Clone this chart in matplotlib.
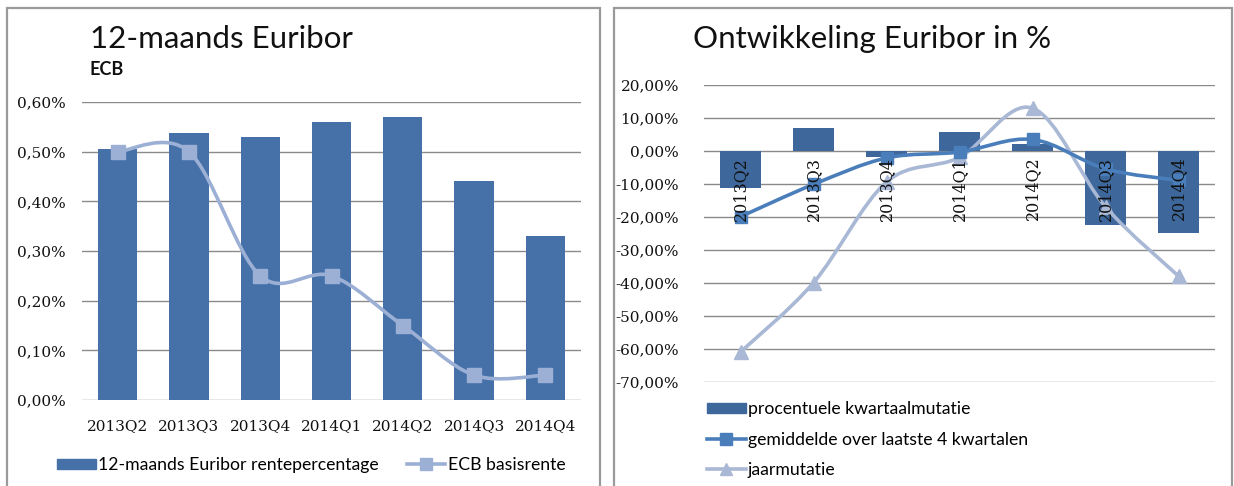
import numpy as np
import matplotlib
matplotlib.use("Agg")
import matplotlib.pyplot as plt
from matplotlib.path import Path
from matplotlib.patches import PathPatch, Rectangle
from matplotlib.lines import Line2D
from matplotlib.transforms import offset_copy

# data
kwartalen = ["2013Q2", "2013Q3", "2013Q4", "2014Q1", "2014Q2", "2014Q3", "2014Q4"]
euribor_12m = [0.505, 0.538, 0.53, 0.56, 0.57, 0.44, 0.33]
ecb_basisrente = [0.50, 0.50, 0.25, 0.25, 0.15, 0.05, 0.05]

kwartaalmutatie = [-11.4, 7.0, -1.9, 5.6, 2.0, -22.5, -24.8]
gemiddelde_4kw = [-20.0, -10.2, -2.2, -0.4, 3.4, -5.5, -9.0]
jaarmutatie = [-61.0, -40.0, -9.5, -2.0, 12.9, -17.0, -38.0]

tick_font = "DejaVu Serif"
text_font = "Lato"

c_bar_l = "#4671a8"
c_bar_r = "#3e679b"
c_ecb = "#9cb0d6"
c_gem = "#4a7ebb"
c_jaar = "#a8b8d5"
c_grid = "#8a8a8a"


def smooth_line(ax, xs, ys, color, lw, z):
    # bezier curve through every point (catmull-rom style control points)
    pts = np.column_stack([xs, ys]).astype(float)
    ext = np.vstack([pts[0], pts, pts[-1]])
    verts = [pts[0]]
    codes = [Path.MOVETO]
    for i in range(len(pts) - 1):
        p0, p1, p2, p3 = ext[i], ext[i + 1], ext[i + 2], ext[i + 3]
        verts += [p1 + (p2 - p0) / 6.0, p2 - (p3 - p1) / 6.0, p2]
        codes += [Path.CURVE4] * 3
    ax.add_patch(PathPatch(Path(verts, codes), facecolor="none", edgecolor=color,
                           lw=lw, zorder=z, capstyle="round"))


fig = plt.figure(figsize=(12.34, 4.86), dpi=100)
W, H = 1234.0, 486.0

# panel frames
for x0, x1 in [(7, 600), (614, 1232)]:
    fig.add_artist(Rectangle((x0 / W, -0.05), (x1 - x0) / W, 1.05 - 8 / H,
                             transform=fig.transFigure, fill=False,
                             edgecolor="#9a9a9a", lw=1.6))

# ---- left: 12-maands Euribor ----
ax1 = fig.add_axes([82 / W, (H - 400) / H, 499 / W, 298 / H])
x = np.arange(len(kwartalen))
ax1.bar(x, euribor_12m, width=0.55, color=c_bar_l, zorder=2)
smooth_line(ax1, x, ecb_basisrente, c_ecb, 2.6, 3)
ax1.plot(x, ecb_basisrente, ls="none", marker="s", ms=10.5, color=c_ecb, zorder=4)
ax1.set_xlim(-0.5, len(kwartalen) - 0.5)
ax1.set_ylim(0, 0.6)
ax1.set_yticks(np.arange(0, 0.61, 0.1))
ax1.set_yticklabels([f"{v:.2f}%".replace(".", ",") for v in np.arange(0, 0.61, 0.1)],
                    fontfamily=tick_font, fontsize=11)
ax1.set_xticks(x)
ax1.set_xticklabels(kwartalen, fontfamily=tick_font, fontsize=11)
ax1.tick_params(length=0, pad=12, colors="#111111")
ax1.tick_params(axis="x", pad=14)
ax1.yaxis.grid(True, color=c_grid, lw=1.0, zorder=0)
ax1.set_axisbelow(True)
for s in ax1.spines.values():
    s.set_visible(False)

fig.text(90 / W, 1 - 48 / H, "12-maands Euribor", fontfamily=text_font,
         fontsize=22.5, va="baseline", color="#111111")
fig.text(90 / W, 1 - 75 / H, "ECB", fontfamily=text_font, fontweight="bold",
         fontsize=13, va="baseline", color="#111111")

h1 = [Rectangle((0, 0), 1, 1, color=c_bar_l),
      Line2D([], [], color=c_ecb, lw=2.6, marker="s", ms=9)]
fig.legend(h1, ["12-maands Euribor rentepercentage", "ECB basisrente"],
           loc="center", bbox_to_anchor=(311 / W, 1 - 465 / H), ncol=2,
           frameon=False, prop={"family": text_font, "size": 12.7},
           handlelength=2.2, handleheight=0.5, handletextpad=0.12,
           columnspacing=1.6)

# ---- right: Ontwikkeling Euribor in % ----
ax2 = fig.add_axes([704 / W, (H - 381.7) / H, 511 / W, 297 / H])
ax2.bar(x, kwartaalmutatie, width=0.56, color=c_bar_r, zorder=2)
smooth_line(ax2, x, jaarmutatie, c_jaar, 2.6, 4)
ax2.plot(x, jaarmutatie, ls="none", marker="^", ms=10, color=c_jaar, zorder=5)
smooth_line(ax2, x, gemiddelde_4kw, c_gem, 2.6, 6)
ax2.plot(x, gemiddelde_4kw, ls="none", marker="s", ms=9, color=c_gem, zorder=7)
# category labels sit just under the zero line, on top of everything
lab_tr = offset_copy(ax2.transData, fig=fig, y=-6, units="dots")
for xi, lab in zip(x, kwartalen):
    ax2.text(xi, 0, lab, rotation=90, ha="center", va="top", transform=lab_tr,
             fontfamily=tick_font, fontsize=11.5, color="#111111", zorder=10)
ax2.set_xlim(-0.5, len(kwartalen) - 0.5)
ax2.set_ylim(-70, 20)
yt = np.arange(-70, 21, 10)
ax2.set_yticks(yt)
ax2.set_yticklabels([f"{v:.2f}%".replace(".", ",") for v in yt],
                    fontfamily=tick_font, fontsize=11)
ax2.set_xticks([])
ax2.tick_params(length=0, pad=18, colors="#111111")
ax2.yaxis.grid(True, color=c_grid, lw=1.0, zorder=0)
ax2.set_axisbelow(True)
for s in ax2.spines.values():
    s.set_visible(False)

fig.text(693 / W, 1 - 48 / H, "Ontwikkeling Euribor in %", fontfamily=text_font,
         fontsize=22.5, va="baseline", color="#111111")

h2 = [Rectangle((0, 0), 1, 1, color=c_bar_r),
      Line2D([], [], color=c_gem, lw=2.6, marker="s", ms=9),
      Line2D([], [], color=c_jaar, lw=2.6, marker="^", ms=9)]
fig.legend(h2, ["procentuele kwartaalmutatie", "gemiddelde over laatste 4 kwartalen",
                "jaarmutatie"],
           loc="upper left", bbox_to_anchor=(700 / W, 1 - 394 / H),
           frameon=False, prop={"family": text_font, "size": 12.7},
           handlelength=2.2, handleheight=0.5, handletextpad=0.12,
           labelspacing=0.82, borderaxespad=0)

fig.savefig("out.png", dpi=100)
